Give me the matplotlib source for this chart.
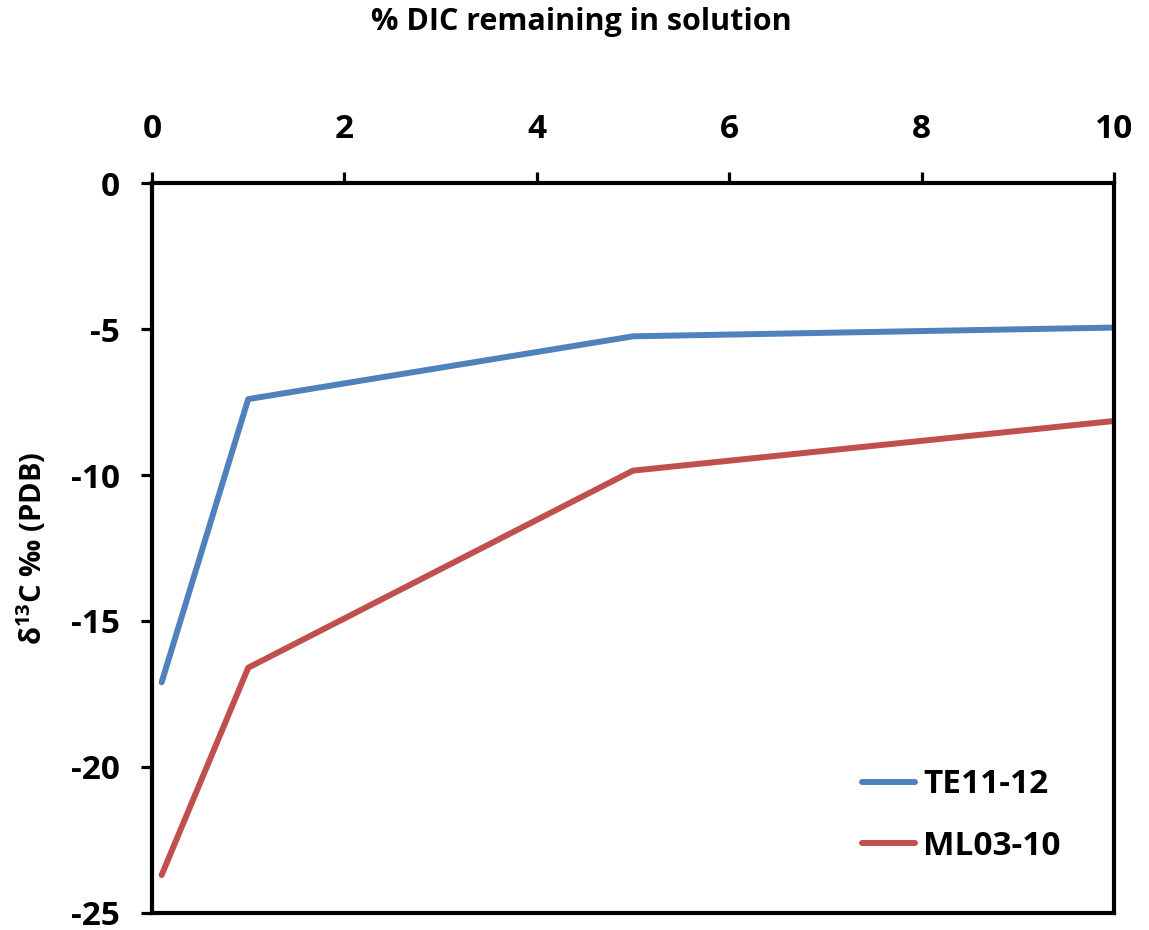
import matplotlib.pyplot as plt

plt.rcParams['font.family'] = ['Open Sans', 'DejaVu Sans']
plt.rcParams['font.weight'] = 'bold'
plt.rcParams['mathtext.fontset'] = 'custom'
plt.rcParams['mathtext.bf'] = 'Open Sans:bold'
plt.rcParams['mathtext.rm'] = 'Open Sans:bold'

# % DIC remaining vs d13C for the two samples
dic_pct = [0.1, 1, 5, 10]
te11_12 = [-17.1, -7.4, -5.25, -4.95]
ml03_10 = [-23.7, -16.6, -9.85, -8.15]

blue = '#4f81bd'
red = '#c0504d'

fig = plt.figure(figsize=(11.49, 9.3), dpi=100)
ax = fig.add_axes([0.1323, 0.0183, 0.8372, 0.7849])

ax.plot(dic_pct, te11_12, color=blue, lw=4.3, label='TE11-12', solid_capstyle='round')
ax.plot(dic_pct, ml03_10, color=red, lw=4.3, label='ML03-10', solid_capstyle='round')

ax.set_xlim(0, 10)
ax.set_ylim(-25, 0)
ax.set_xticks([0, 2, 4, 6, 8, 10])
ax.set_yticks([0, -5, -10, -15, -20, -25])
ax.set_yticklabels(['0', '-5', '-10', '-15', '-20', '-25'])
ax.xaxis.tick_top()
ax.tick_params(axis='x', direction='out', length=8, width=2.3, labelsize=24, pad=19)
ax.tick_params(axis='y', direction='out', length=8, width=2.3, labelsize=24, pad=15)
for lbl in ax.get_xticklabels() + ax.get_yticklabels():
    lbl.set_fontweight('bold')
for sp in ax.spines.values():
    sp.set_linewidth(3)
    sp.set_color('black')

ax.set_ylabel(r'δ$^{\mathbf{13}}$C ‰ (PDB)', fontsize=21, fontweight='bold', labelpad=16)
fig.text(0.506, 0.976, '% DIC remaining in solution', ha='center', va='center',
         fontsize=22, fontweight='bold')

leg = ax.legend(loc='lower right', frameon=False, fontsize=24, handlelength=1.6,
                handletextpad=0.25, labelspacing=0.85, bbox_to_anchor=(0.976, 0.028))
for t in leg.get_texts():
    t.set_fontweight('bold')

fig.savefig('out.png', dpi=100)
